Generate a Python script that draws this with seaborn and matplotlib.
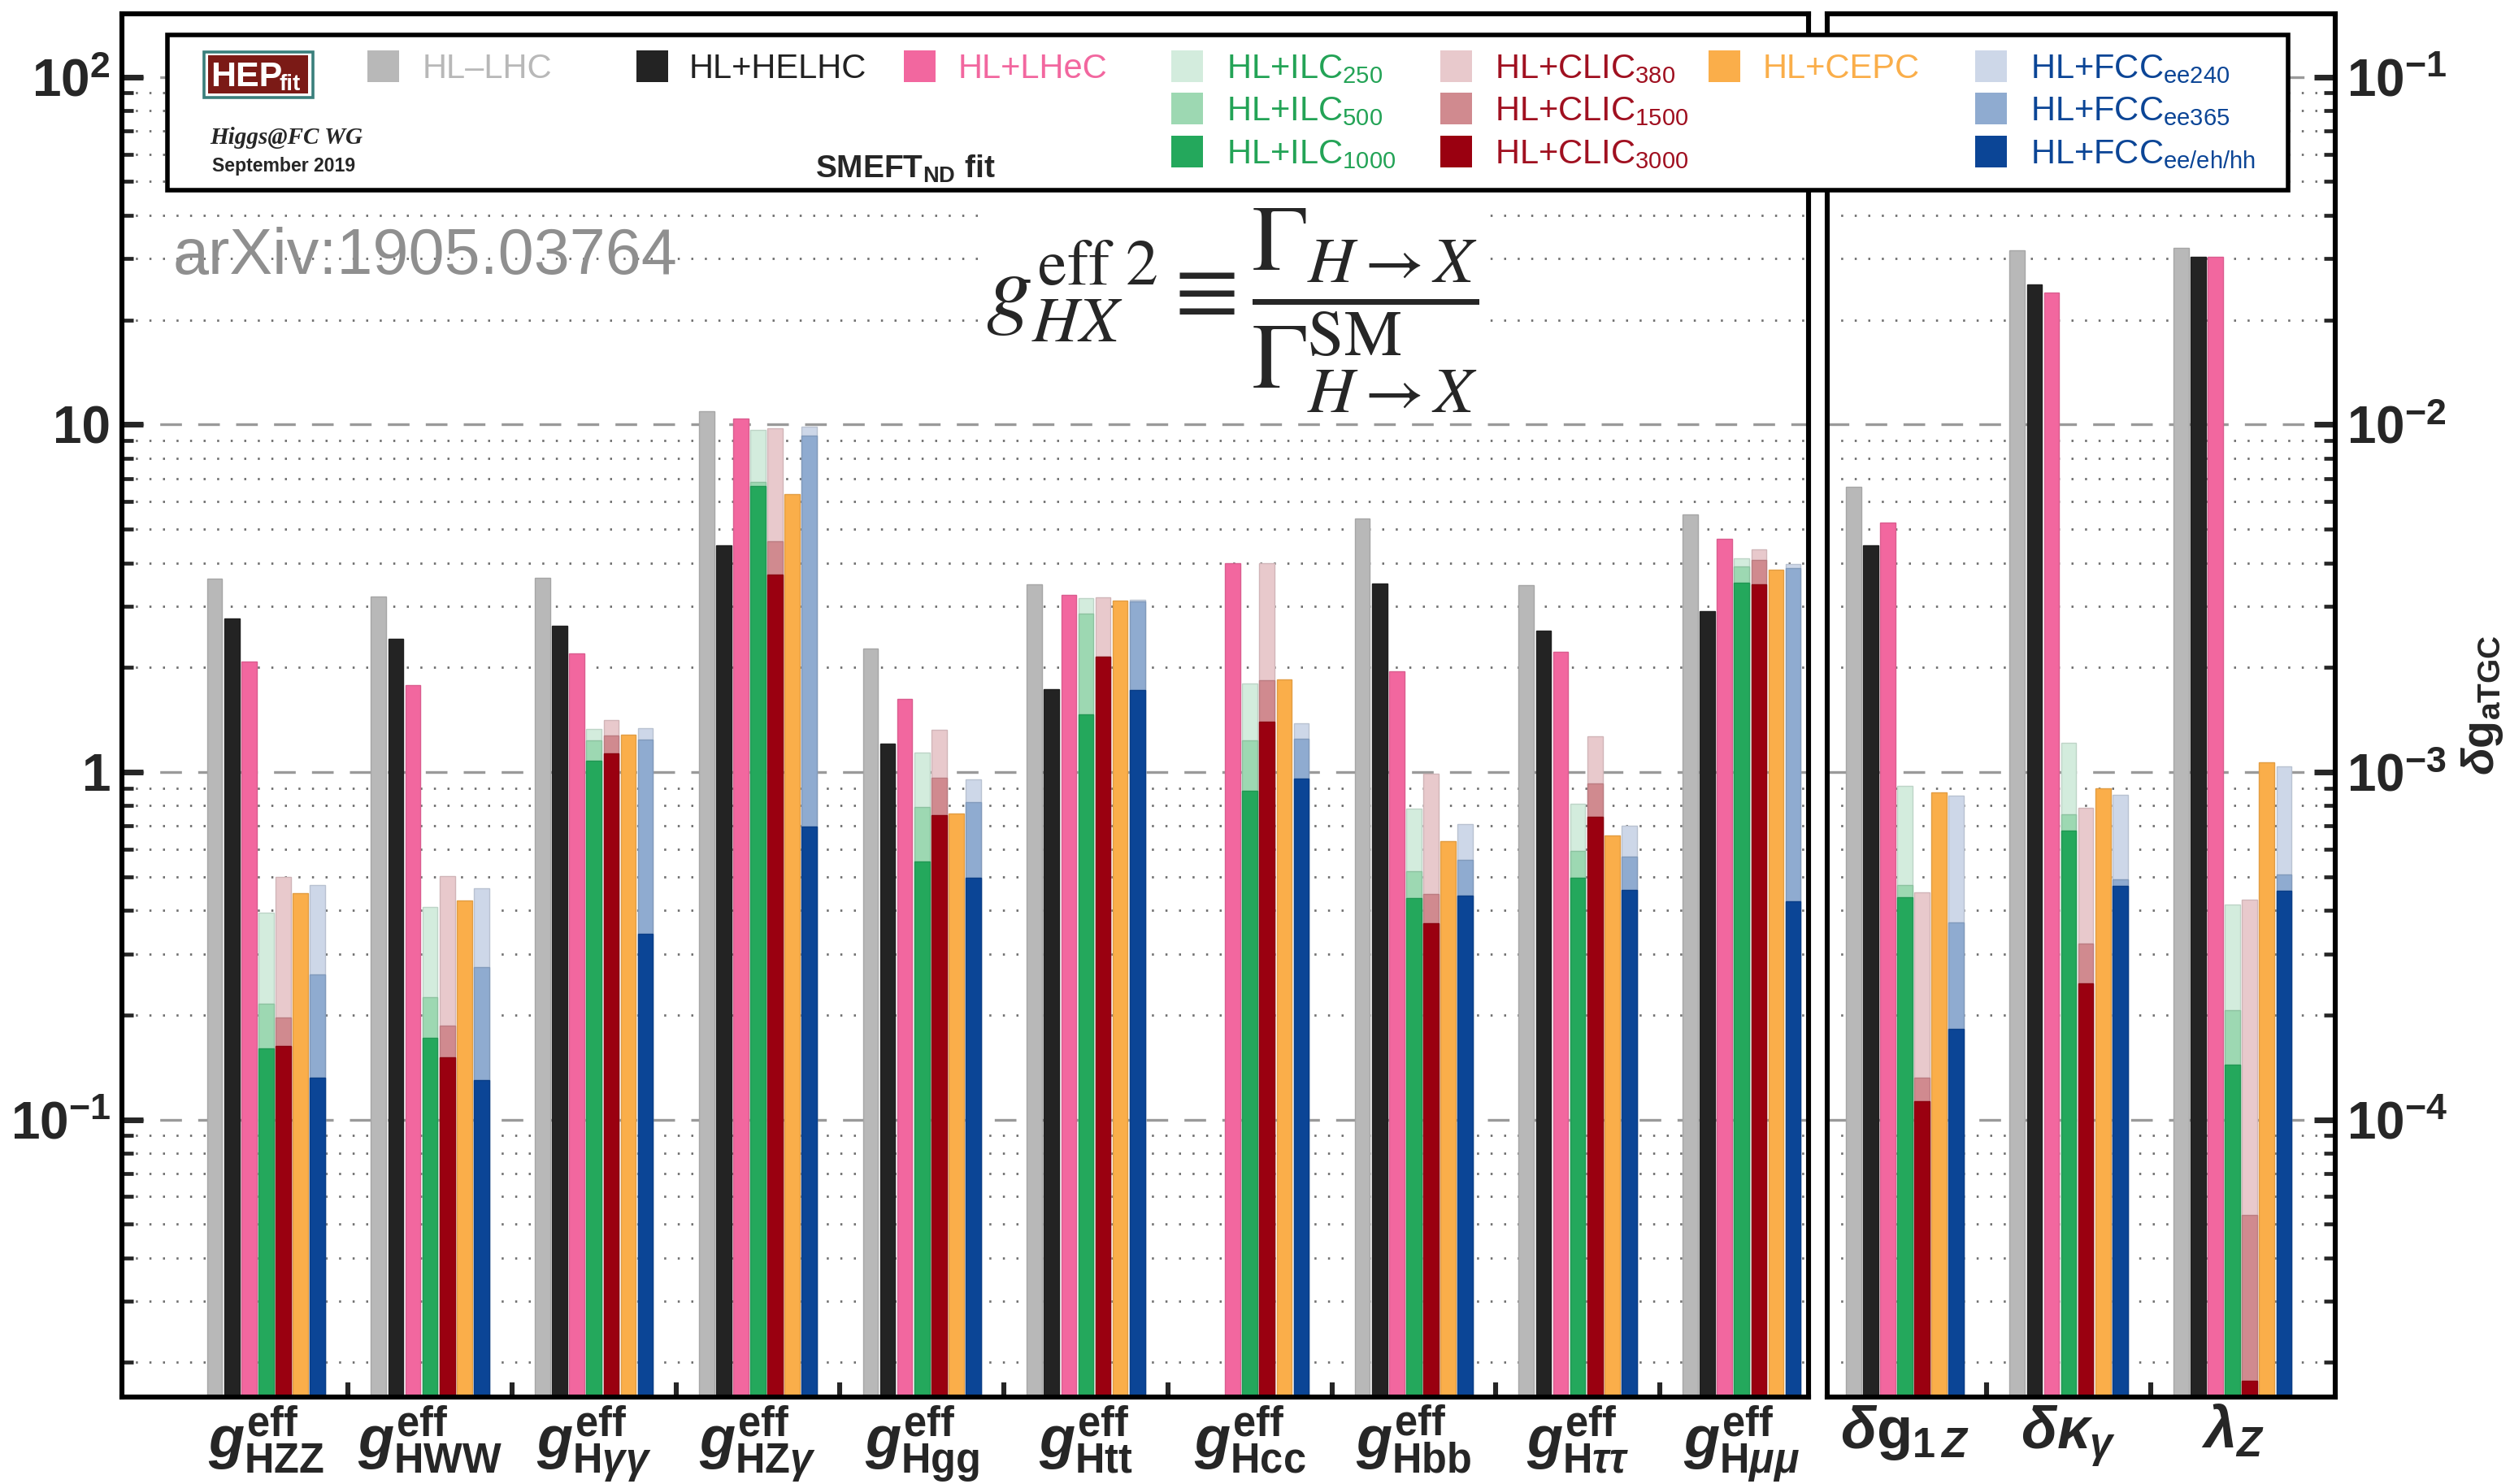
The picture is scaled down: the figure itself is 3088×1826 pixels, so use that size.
import numpy as np
import pandas as pd
import matplotlib
matplotlib.use("Agg")
import matplotlib.pyplot as plt
import matplotlib.colors as mcolors
from matplotlib.patches import Rectangle
from matplotlib.ticker import LogLocator, NullFormatter
import seaborn as sns

nan = np.nan

# ---------------------------------------------------------------- data
# Higgs effective couplings, relative precision in %
coupling_keys = ["HZZ", "HWW", "Hyy", "HZy", "Hgg", "Htt", "Hcc", "Hbb", "Htautau", "Hmumu"]
coupling_labels = [
    r"$g^{\mathregular{eff}}_{\mathregular{HZZ}}$",
    r"$g^{\mathregular{eff}}_{\mathregular{HWW}}$",
    r"$g^{\mathregular{eff}}_{\mathregular{H}\gamma\gamma}$",
    r"$g^{\mathregular{eff}}_{\mathregular{HZ}\gamma}$",
    r"$g^{\mathregular{eff}}_{\mathregular{Hgg}}$",
    r"$g^{\mathregular{eff}}_{\mathregular{Htt}}$",
    r"$g^{\mathregular{eff}}_{\mathregular{Hcc}}$",
    r"$g^{\mathregular{eff}}_{\mathregular{Hbb}}$",
    r"$g^{\mathregular{eff}}_{\mathregular{H}\tau\tau}$",
    r"$g^{\mathregular{eff}}_{\mathregular{H}\mu\mu}$",
]
hl_lhc    = [3.61, 3.20, 3.63, 10.9, 2.27, 3.46, nan, 5.36, 3.45, 5.50]
hl_helhc  = [2.77, 2.42, 2.64, 4.48, 1.21, 1.73, nan, 3.48, 2.55, 2.91]
hl_lhec   = [2.08, 1.78, 2.19, 10.4, 1.62, 3.23, 4.00, 1.95, 2.22, 4.68]
ilc_250   = [0.394, 0.410, 1.33, 9.64, 1.135, 3.17, 1.80, 0.784, 0.809, 4.13]
ilc_500   = [0.216, 0.225, 1.23, 6.85, 0.795, 2.86, 1.235, 0.518, 0.592, 3.91]
ilc_1000  = [0.160, 0.172, 1.077, 6.65, 0.552, 1.468, 0.884, 0.433, 0.497, 3.51]
clic_380  = [0.498, 0.501, 1.41, 9.76, 1.324, 3.18, 4.00, 0.989, 1.27, 4.36]
clic_1500 = [0.197, 0.186, 1.276, 4.62, 0.964, 2.15, 1.84, 0.445, 0.926, 4.08]
clic_3000 = [0.163, 0.151, 1.13, 3.69, 0.752, 2.15, 1.393, 0.368, 0.744, 3.46]
cepc      = [0.449, 0.428, 1.283, 6.29, 0.758, 3.12, 1.85, 0.634, 0.657, 3.83]
fcc_240   = [0.472, 0.462, 1.337, 9.88, 0.954, 3.13, 1.384, 0.708, 0.699, 3.97]
fcc_365   = [0.262, 0.274, 1.24, 9.28, 0.818, 3.09, 1.246, 0.560, 0.570, 3.87]
fcc_all   = [0.132, 0.130, 0.342, 0.698, 0.497, 1.72, 0.956, 0.440, 0.458, 0.424]

# anomalous triple gauge couplings, absolute precision
tgc_keys = ["dg1Z", "dkappa", "lambdaZ"]
tgc_labels = [
    r"$\delta\mathregular{g}_{\mathregular{1}\,Z}$",
    r"$\delta\kappa_{\gamma}$",
    r"$\lambda_{Z}$",
]
tgc_hl_lhc    = [6.63e-3, 31.8e-3, 32.2e-3]
tgc_hl_helhc  = [4.49e-3, 25.3e-3, 30.3e-3]
tgc_hl_lhec   = [5.21e-3, 24.0e-3, 30.4e-3]
tgc_ilc_250   = [0.913e-3, 1.216e-3, 0.416e-3]
tgc_ilc_500   = [0.473e-3, 0.756e-3, 0.206e-3]
tgc_ilc_1000  = [0.437e-3, 0.678e-3, 0.144e-3]
tgc_clic_380  = [0.450e-3, 0.787e-3, 0.430e-3]
tgc_clic_1500 = [0.132e-3, 0.3215e-3, 0.0531e-3]
tgc_clic_3000 = [0.113e-3, 0.247e-3, 0.0177e-3]
tgc_cepc      = [0.873e-3, 0.899e-3, 1.064e-3]
tgc_fcc_240   = [0.856e-3, 0.860e-3, 1.038e-3]
tgc_fcc_365   = [0.369e-3, 0.492e-3, 0.507e-3]
tgc_fcc_all   = [0.182e-3, 0.470e-3, 0.4545e-3]

# ---------------------------------------------------------------- style
slots = ["HL-LHC", "HELHC", "LHeC", "ILC", "CLIC", "CEPC", "FCC"]
c_gray, c_dark, c_pink = "#b8b8b8", "#232323", "#f2679f"
c_ilc = ["#d3ecdd", "#9dd8b2", "#24a85c"]
c_clic = ["#e8c9cc", "#d08a8f", "#9a0010"]
c_cepc = "#faae4a"
c_fcc = ["#cdd7e8", "#8fabd0", "#0b4596"]

layer_palettes = []
for k in range(3):
    layer_palettes.append({"HL-LHC": c_gray, "HELHC": c_dark, "LHeC": c_pink,
                           "ILC": c_ilc[k], "CLIC": c_clic[k], "CEPC": c_cepc,
                           "FCC": c_fcc[k]})


def long_table(keys, layers):
    rows = []
    for layer, series in enumerate(layers):
        for slot, vals in series.items():
            for key, v in zip(keys, vals):
                if not np.isnan(v):
                    rows.append({"group": key, "slot": slot, "layer": layer, "value": v})
    return pd.DataFrame(rows)


df_h = long_table(coupling_keys, [
    {"HL-LHC": hl_lhc, "HELHC": hl_helhc, "LHeC": hl_lhec, "ILC": ilc_250,
     "CLIC": clic_380, "CEPC": cepc, "FCC": fcc_240},
    {"ILC": ilc_500, "CLIC": clic_1500, "FCC": fcc_365},
    {"ILC": ilc_1000, "CLIC": clic_3000, "FCC": fcc_all},
])
df_t = long_table(tgc_keys, [
    {"HL-LHC": tgc_hl_lhc, "HELHC": tgc_hl_helhc, "LHeC": tgc_hl_lhec, "ILC": tgc_ilc_250,
     "CLIC": tgc_clic_380, "CEPC": tgc_cepc, "FCC": tgc_fcc_240},
    {"ILC": tgc_ilc_500, "CLIC": tgc_clic_1500, "FCC": tgc_fcc_365},
    {"ILC": tgc_ilc_1000, "CLIC": tgc_clic_3000, "FCC": tgc_fcc_all},
])

sns.set_style("ticks")
plt.rcParams["font.family"] = ["Liberation Sans", "DejaVu Sans"]
plt.rcParams["mathtext.fontset"] = "custom"
plt.rcParams["mathtext.rm"] = "Liberation Sans:bold"
plt.rcParams["mathtext.it"] = "Liberation Sans:italic:bold"
plt.rcParams["mathtext.bf"] = "Liberation Sans:bold"

W, H = 3088, 1826
DPI = 200
fig = plt.figure(figsize=(W / DPI, H / DPI), dpi=DPI)


def px_rect(x0, y0, x1, y1):
    return [x0 / W, 1 - y1 / H, (x1 - x0) / W, (y1 - y0) / H]


ax_l = fig.add_axes(px_rect(150, 17, 2225.5, 1719))
ax_r = fig.add_axes(px_rect(2247.7, 17, 2873, 1719))


def draw_bars(ax, df, order):
    for layer, pal in enumerate(layer_palettes):
        sub = df[df["layer"] == layer]
        sns.barplot(data=sub, x="group", y="value", hue="slot", order=order,
                    hue_order=slots, palette=pal, dodge=True, width=0.732, gap=0.114,
                    saturation=1, errorbar=None, legend=False, log_scale=True,
                    linewidth=0, ax=ax)
    for p in ax.patches:
        fc = np.array(mcolors.to_rgb(p.get_facecolor()))
        p.set_edgecolor(tuple(fc * 0.9))
        p.set_linewidth(0.5)
        p.set_zorder(2)


def style_axis(ax, ylim, xlim, ticks, ticklabels, side, xlabels, n):
    ax.set_yscale("log")
    ax.set_ylim(*ylim)
    ax.set_xlim(*xlim)
    ax.set_xlabel("")
    ax.set_ylabel("")
    ax.set_yticks(ticks, labels=ticklabels)
    ax.yaxis.set_minor_locator(LogLocator(base=10, subs=np.arange(2, 10), numticks=50))
    ax.yaxis.set_minor_formatter(NullFormatter())
    ax.set_xticks(range(n), labels=xlabels)
    ax.set_xticks(np.arange(0.5, n - 1, 1.0), minor=True)
    for s in ax.spines.values():
        s.set_visible(True)
        s.set_linewidth(2.2)
        s.set_color("black")
    ax.grid(False)
    ax.grid(True, which="major", axis="y", color="#9a9a9a", lw=1.2, ls=(0, (8, 6)))
    ax.grid(True, which="minor", axis="y", color="#707070", lw=1.0, ls=(0, (0.9, 5.1)))
    ax.set_axisbelow(True)
    left = side == "left"
    ax.tick_params(axis="y", which="major", direction="in", length=9.5, width=2.5,
                   labelsize=23, pad=5, left=left, right=not left,
                   labelleft=left, labelright=not left)
    ax.tick_params(axis="y", which="minor", direction="in", length=5, width=1.7,
                   left=left, right=not left)
    ax.tick_params(axis="x", which="major", length=0, labelsize=26, pad=3, top=False)
    ax.tick_params(axis="x", which="minor", direction="in", length=6.5, width=2.2,
                   top=False, bottom=True)
    for t in ax.get_yticklabels() + ax.get_xticklabels():
        t.set_fontweight("bold")


draw_bars(ax_l, df_h, coupling_keys)
draw_bars(ax_r, df_t, tgc_keys)

style_axis(ax_l, (0.0159, 152), (-0.8795, 9.41), [0.1, 1, 10, 100],
           [r"$\mathregular{10^{-1}}$", "1", "10", r"$\mathregular{10^{2}}$"],
           "left", coupling_labels, len(coupling_keys))
style_axis(ax_r, (0.0159e-3, 152e-3), (-0.475, 2.627), [1e-4, 1e-3, 1e-2, 1e-1],
           [r"$\mathregular{10^{-4}}$", r"$\mathregular{10^{-3}}$",
            r"$\mathregular{10^{-2}}$", r"$\mathregular{10^{-1}}$"],
           "right", tgc_labels, len(tgc_keys))

ax_r.yaxis.set_label_position("right")
ax_r.set_ylabel(r"$\delta\mathregular{g}_{\mathregular{aTGC}}$", fontsize=20,
                fontweight="bold", rotation=90)
ax_r.yaxis.set_label_coords(1.245, 0.5)

# ---------------------------------------------------------------- overlay: legend, logo, formula
ov = fig.add_axes([0, 0, 1, 1])
ov.set_xlim(0, W)
ov.set_ylim(H, 0)
ov.axis("off")

ov.add_patch(Rectangle((206, 43), 2815 - 206, 234 - 43, facecolor="white",
                       edgecolor="black", lw=2.0, zorder=5))

# HEPfit logo
ov.add_patch(Rectangle((250.6, 63.6), 134, 56, facecolor="white", edgecolor="#3a7f7c",
                       lw=1.3, zorder=6))
ov.add_patch(Rectangle((256, 68.5), 123, 46.5, facecolor="#7b1a16", edgecolor="none", zorder=7))
ov.text(259, 106, "HEP", color="white", fontsize=15.5, fontweight="bold", zorder=8)
ov.text(343, 111, "fit", color="white", fontsize=10, fontweight="bold", zorder=8)
ov.text(258, 177, "Higgs@FC WG", family="Liberation Serif", style="italic",
        fontweight="bold", fontsize=10.5, zorder=8)
ov.text(261, 210.5, "September 2019", fontweight="bold", fontsize=8.3, zorder=8)
ov.text(1003, 218.5, r"SMEFT$_{\mathregular{ND}}$ fit", fontweight="bold", fontsize=14,
        zorder=8)

legend_sq_x = [451.5, 783, 1111.6, 1441, 1772, 2102, 2430]
legend_tx_x = [520, 848, 1178.6, 1509, 1839, 2168.6, 2498]
legend_row_y = [82, 134, 187]
c_txt_green, c_txt_red, c_txt_blue = "#23a356", "#a01020", "#0b4596"
legend_entries = [
    (0, 0, "HL–LHC", c_gray, c_gray),
    (1, 0, "HL+HELHC", c_dark, "#222222"),
    (2, 0, "HL+LHeC", c_pink, c_pink),
    (3, 0, r"HL+ILC$_{\mathregular{250}}$", c_ilc[0], c_txt_green),
    (3, 1, r"HL+ILC$_{\mathregular{500}}$", c_ilc[1], c_txt_green),
    (3, 2, r"HL+ILC$_{\mathregular{1000}}$", c_ilc[2], c_txt_green),
    (4, 0, r"HL+CLIC$_{\mathregular{380}}$", c_clic[0], c_txt_red),
    (4, 1, r"HL+CLIC$_{\mathregular{1500}}$", c_clic[1], c_txt_red),
    (4, 2, r"HL+CLIC$_{\mathregular{3000}}$", c_clic[2], c_txt_red),
    (5, 0, "HL+CEPC", c_cepc, c_cepc),
    (6, 0, r"HL+FCC$_{\mathregular{ee240}}$", c_fcc[0], c_txt_blue),
    (6, 1, r"HL+FCC$_{\mathregular{ee365}}$", c_fcc[1], c_txt_blue),
    (6, 2, r"HL+FCC$_{\mathregular{ee/eh/hh}}$", c_fcc[2], c_txt_blue),
]
for col, row, label, sq_color, txt_color in legend_entries:
    cy = legend_row_y[row]
    ov.add_patch(Rectangle((legend_sq_x[col], cy - 19.5), 39, 39, facecolor=sq_color,
                           edgecolor="none", zorder=7))
    ov.text(legend_tx_x[col], cy + 14.5, label, color=txt_color, fontsize=15,
            va="baseline", ha="left", zorder=8)

ov.text(213, 337, "arXiv:1905.03764", color="#8f8f8f", fontsize=28.5, va="baseline", zorder=4)

ov.text(1516, 382,
        r"$g_{HX}^{\mathrm{eff}\ 2}\equiv\dfrac{\Gamma_{H\to X}}{\Gamma_{H\to X}^{\mathrm{SM}}}$",
        math_fontfamily="stix", fontsize=41, ha="center", va="center", zorder=4,
        bbox=dict(facecolor="white", edgecolor="none", pad=1))

fig.savefig("out.png", dpi=DPI)
